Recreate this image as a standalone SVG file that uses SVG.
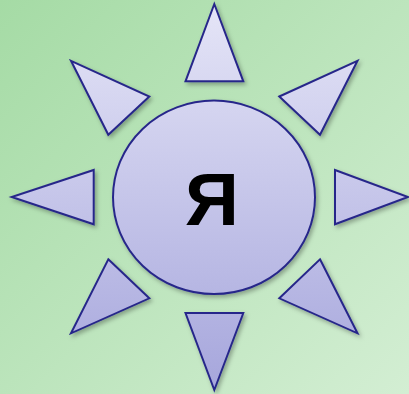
<svg xmlns="http://www.w3.org/2000/svg" width="409" height="394" viewBox="0 0 409 394">
<defs>
<linearGradient id="bg" x1="0" y1="0" x2="409" y2="394" gradientUnits="userSpaceOnUse">
<stop offset="0" stop-color="#a5dba5"/>
<stop offset="1" stop-color="#d3eed3"/>
</linearGradient>
<linearGradient id="fill" x1="0" y1="4" x2="0" y2="390" gradientUnits="userSpaceOnUse">
<stop offset="0" stop-color="#e5e5f7"/>
<stop offset="1" stop-color="#a6a6dc"/>
</linearGradient>
<filter id="sh" x="-20%" y="-20%" width="150%" height="150%">
<feDropShadow dx="2" dy="2.5" stdDeviation="2" flood-color="#000" flood-opacity="0.3"/>
</filter>
</defs>
<style>
.s{fill:url(#fill);stroke:#28288a;stroke-width:2;stroke-linejoin:miter;filter:url(#sh)}
.t{font-family:"Liberation Sans",Arial,sans-serif;font-weight:bold;font-size:75px;fill:#000}
</style>
<rect width="409" height="394" fill="url(#bg)"/>
<g id="ray-n"><polygon class="s" points="214.3,4 243.3,81.3 185.5,81.3"/></g>
<g id="ray-ne"><polygon class="s" points="279.3,96.5 357.5,60.8 320,134.8"/></g>
<g id="ray-e"><polygon class="s" points="335,170 408,197 335,224.3"/></g>
<g id="ray-se"><polygon class="s" points="320,259.3 357.5,333.3 279.3,298.3"/></g>
<g id="ray-s"><polygon class="s" points="185.5,313 243.3,313 214.3,390"/></g>
<g id="ray-sw"><polygon class="s" points="108.3,259.3 149.3,298.3 71,333.3"/></g>
<g id="ray-w"><polygon class="s" points="93.7,170 93.7,224.3 11.7,197"/></g>
<g id="ray-nw"><polygon class="s" points="71,60.8 149.3,96.5 108.3,134.8"/></g>
<g id="center">
<ellipse class="s" cx="214" cy="197.3" rx="101" ry="96.7"/>
<text class="t" x="212" y="225" text-anchor="middle">Я</text>
</g>
</svg>
